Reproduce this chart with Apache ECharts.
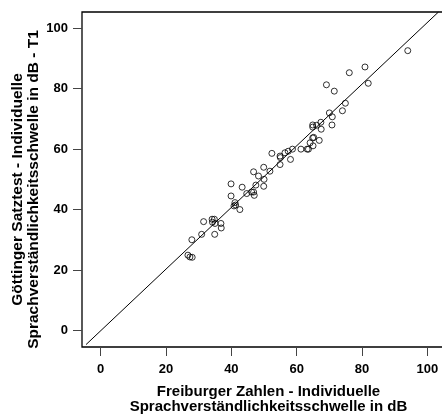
<!DOCTYPE html>
<html>
<head>
<meta charset="utf-8">
<script src="https://cdn.jsdelivr.net/npm/echarts@6/dist/echarts.min.js"></script>
<style>
	html, body { margin: 0; padding: 0; background: #fff; }
	#chart { width: 442px; height: 414px; }
</style>
</head>
<body>
<div id="chart"></div>
<script>
// Freiburger Zahlen (x) vs. Göttinger Satztest (y), dB
var freiburg = [
	94.0, 80.9, 76.1, 81.9, 69.1, 71.5, 74.9, 74.0, 70.0, 70.9,
	70.8, 67.4, 66.1, 64.9, 64.9, 67.5, 64.9, 65.2, 64.1, 66.9,
	65.0, 63.6, 63.2, 61.3, 58.7, 57.4, 56.4, 54.9, 55.0, 52.4,
	58.1, 54.9, 51.8, 49.9, 46.8, 48.3, 50.0, 49.9, 47.5, 39.9,
	43.3, 39.9, 44.7, 46.2, 46.8, 47.0, 41.1, 41.3, 40.8, 42.6,
	31.5, 34.1, 34.8, 34.2, 35.0, 36.8, 36.9, 34.9, 30.9, 27.9,
	26.7, 27.3, 28.0
];
var goettingen = [
	92.6, 87.2, 85.3, 81.8, 81.3, 79.2, 75.2, 72.7, 72.0, 70.7,
	68.0, 68.9, 67.9, 68.0, 67.3, 66.6, 63.7, 63.9, 62.1, 62.9,
	61.1, 60.0, 60.0, 60.0, 60.0, 59.3, 58.8, 57.7, 57.2, 58.6,
	56.6, 54.9, 52.7, 54.0, 52.5, 51.1, 50.0, 47.7, 48.1, 48.5,
	47.4, 44.5, 45.3, 45.8, 45.8, 44.7, 42.3, 41.5, 41.2, 40.0,
	36.0, 36.8, 36.8, 35.8, 35.4, 35.4, 33.9, 31.8, 31.8, 30.0,
	24.9, 24.3, 24.2
];
// Referenzgerade
var lineX = [-4.5, 103.4];
var lineY = [-4.7, 105.4];
var tickValues = [0, 20, 40, 60, 80, 100];

var FONT = '"Liberation Sans", Arial, sans-serif';

var points = freiburg.map(function(x, i) { return [x, goettingen[i]]; });
var linePoints = lineX.map(function(x, i) { return [x, lineY[i]]; });

var chart = echarts.init(document.getElementById('chart'));
chart.setOption({
	animation: false,
	backgroundColor: '#ffffff',
	grid: {
		left: 82, top: 12, right: -3, bottom: 67,
		outerBoundsMode: 'none',
		containLabel: false,
		show: true,
		borderColor: '#000',
		borderWidth: 1.3,
		backgroundColor: 'transparent'
	},
	xAxis: {
		type: 'value',
		min: -5.73, max: 105.4,
		axisLine: { show: false, onZero: false },
		splitLine: { show: false },
		axisTick: { show: true, length: 9, customValues: tickValues, lineStyle: { color: '#444', width: 1 } },
		axisLabel: { customValues: tickValues, margin: 16, color: '#000', fontSize: 13, fontWeight: 'bold', fontFamily: FONT },
		name: 'Freiburger Zahlen - Individuelle\nSprachverständlichkeitsschwelle in dB',
		nameLocation: 'middle',
		nameGap: 37,
		nameTextStyle: { color: '#000', fontSize: 15, fontWeight: 'bold', fontFamily: FONT, lineHeight: 15, padding: [0, 0, 0, 10] }
	},
	yAxis: {
		type: 'value',
		min: -5.5, max: 105.4,
		axisLine: { show: false, onZero: false },
		splitLine: { show: false },
		axisTick: { show: true, length: 9, customValues: tickValues, lineStyle: { color: '#444', width: 1 } },
		axisLabel: { customValues: tickValues, margin: 14, color: '#000', fontSize: 13, fontWeight: 'bold', fontFamily: FONT },
		name: 'Göttinger Satztest - Individuelle\nSprachverständlichkeitsschwelle in dB - T1',
		nameLocation: 'middle',
		nameRotate: 90,
		nameGap: 40,
		nameMoveOverlap: false,
		nameTextStyle: { color: '#000', fontSize: 15.5, fontWeight: 'bold', fontFamily: FONT, lineHeight: 16, padding: [0, 20, 0, 0] }
	},
	series: [
		{
			type: 'line',
			data: linePoints,
			showSymbol: false,
			silent: true,
			clip: true,
			lineStyle: { color: '#000', width: 1 },
			z: 1
		},
		{
			type: 'scatter',
			data: points,
			symbol: 'circle',
			symbolSize: 6,
			itemStyle: { color: 'rgba(0,0,0,0)', borderColor: '#000', borderWidth: 1 },
			z: 2
		}
	]
});
</script>
</body>
</html>
